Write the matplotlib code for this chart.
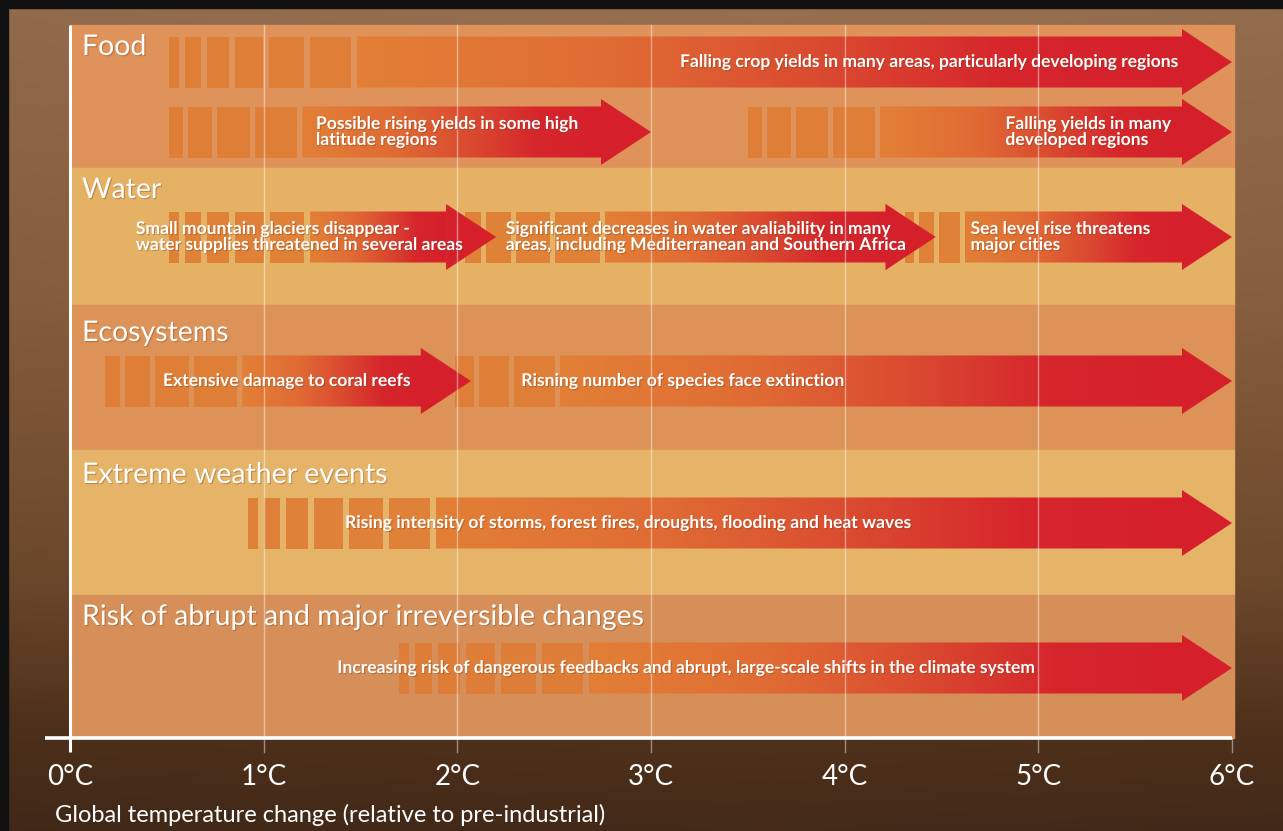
import matplotlib.pyplot as plt
import numpy as np
from matplotlib.patches import Rectangle, Polygon
from matplotlib.colors import LinearSegmentedColormap
import matplotlib.patheffects as pe

plt.rcParams['font.family'] = ['Lato', 'DejaVu Sans']

# temperature axis (degrees C above pre-industrial)
temps = [0, 1, 2, 3, 4, 5, 6]
temp_labels = ["0°C", "1°C", "2°C", "3°C", "4°C", "5°C", "6°C"]
x_label = "Global temperature change (relative to pre-industrial)"

# impact sectors
categories = ["Food", "Water", "Ecosystems", "Extreme weather events",
              "Risk of abrupt and major irreversible changes"]

# impacts: text, lane, where the faded start begins, where it turns solid, arrow tip
impact_text = [
    "Falling crop yields in many areas, particularly developing regions",
    "Possible rising yields in some high\nlatitude regions",
    "Falling yields in many\ndeveloped regions",
    "Small mountain glaciers disappear -\nwater supplies threatened in several areas",
    "Significant decreases in water avaliability in many\nareas, including Mediterranean and Southern Africa",
    "Sea level rise threatens\nmajor cities",
    "Extensive damage to coral reefs",
    "Risning number of species face extinction",
    "Rising intensity of storms, forest fires, droughts, flooding and heat waves",
    "Increasing risk of dangerous feedbacks and abrupt, large-scale shifts in the climate system",
]
impact_lane = [0, 1, 1, 2, 2, 2, 3, 3, 4, 5]
impact_start = [0.51, 0.51, 3.50, 0.51, 2.04, 4.31, 0.18, 1.99, 0.92, 1.70]
impact_solid = [1.48, 1.20, 4.18, 1.24, 2.76, 4.62, 0.89, 2.53, 1.89, 2.68]
impact_end = [6.0, 3.0, 6.0, 2.2, 4.47, 6.0, 2.07, 6.0, 6.0, 6.0]

# ---- layout (pixels of the 1283x831 canvas) ----
W, H = 1283, 831
x0_px, px_per_deg = 70, (1232 - 70) / 6
axis_y = 738
band_edges = [25, 168, 305, 450, 595, axis_y]
band_colors = ["#df935a", "#e5b165", "#dd9358", "#e5b468", "#d68f59"]
title_y = [47, 190, 333, 475, 617]
lane_y = [62, 132, 237, 381, 523, 668]
label_x = [3.15, 1.27, 4.83, 0.34, 2.25, 4.65, 0.48, 2.33, 1.42, 1.38]

bar_half = 25.5
head_half = 33
head_len = 50 / px_per_deg
seg_color = "#e07c34"

fig = plt.figure(figsize=(W / 100, H / 100), dpi=100)

# brown backdrop
bg = fig.add_axes([0, 0, 1, 1])
stops_y = np.array([0.0, 0.35, 0.7, 0.88, 1.0])
stops_c = np.array([[152, 112, 80], [140, 98, 64], [112, 74, 44],
                    [80, 50, 28], [68, 42, 24]]) / 255
yy = np.linspace(0, 1, H)
grad = np.stack([np.interp(yy, stops_y, stops_c[:, k]) for k in range(3)], axis=1)
xx = np.linspace(0, 1, W)
shade = 1 - 0.08 * np.abs(xx - 0.6)
img = grad[:, None, :] * shade[None, :, None]
bg.imshow(np.clip(img, 0, 1), extent=[0, W, H, 0], aspect="auto")
bg.add_patch(Rectangle((0, 0), W, 8, color="#111111"))
bg.add_patch(Rectangle((0, 0), 8, H, color="#111111"))
bg.set_xlim(0, W)
bg.set_ylim(H, 0)
bg.axis("off")

# main panel: x in degrees, y in canvas pixels
ax = fig.add_axes([x0_px / W, (H - axis_y) / H, (1232 - x0_px) / W, (axis_y - 25) / H])
ax.patch.set_alpha(0)
xmax = 6.0

for i, col in enumerate(band_colors):
    ax.add_patch(Rectangle((0, band_edges[i]), xmax + 0.01, band_edges[i + 1] - band_edges[i],
                           color=col, zorder=0, clip_on=False))

shadow = [pe.withSimplePatchShadow(offset=(0.8, -0.8), shadow_rgbFace="#7a3a10", alpha=0.35)]

for i, name in enumerate(categories):
    ax.text(0.062, title_y[i], name, color="white", fontsize=20.5, va="center", ha="left",
            zorder=6, path_effects=shadow)

cmap = LinearSegmentedColormap.from_list(
    "heat", ["#e27e36", "#e06a34", "#da4a30", "#d6262c", "#d5202b"])

for k, text in enumerate(impact_text):
    yc = lane_y[impact_lane[k]]
    s, m, e = impact_start[k], impact_solid[k], impact_end[k]

    # faded start: widening blocks
    span_px = (m - s) * px_per_deg
    n = int(np.clip(round(span_px / 31), 3, 6))
    gap = (6 if n >= 5 else 5) / px_per_deg
    weights = 1 + 0.62 * np.arange(n)
    widths = weights / weights.sum() * ((m - s) - n * gap)
    xpos = s
    for w in widths:
        ax.add_patch(Rectangle((xpos, yc - bar_half), w, 2 * bar_half,
                               color=seg_color, alpha=0.9, lw=0, zorder=2))
        xpos += w + gap

    # solid arrow with orange-to-red gradient
    hb = e - head_len
    verts = [(m, yc - bar_half), (hb, yc - bar_half), (hb, yc - head_half), (e, yc),
             (hb, yc + head_half), (hb, yc + bar_half), (m, yc + bar_half)]
    arrow = Polygon(verts, closed=True, facecolor="none", edgecolor="none", zorder=3)
    ax.add_patch(arrow)
    ramp = np.linspace(0, 1, 256) ** 1.2
    im = ax.imshow(ramp[None, :], cmap=cmap, vmin=0, vmax=1, aspect="auto",
                   extent=[m, hb, yc + head_half, yc - head_half], zorder=3,
                   interpolation="bilinear")
    im.set_clip_path(arrow)
    ax.add_patch(Polygon(verts[2:5], closed=True, facecolor="#d5202b", edgecolor="none", zorder=3))

    ax.text(label_x[k], yc, text, color="white", fontsize=12.6, fontweight="bold",
            va="center", ha="left", linespacing=1.0, zorder=6, path_effects=shadow)

# faint grid lines
for t in temps[1:-1]:
    ax.plot([t, t], [25, axis_y + 14], color="white", alpha=0.45, lw=1, zorder=4, clip_on=False)
ax.plot([6, 6], [axis_y, axis_y + 14], color="white", alpha=0.45, lw=1, zorder=4, clip_on=False)

# axis lines
ax.plot([-25 / px_per_deg, xmax], [axis_y, axis_y], color="white", lw=2.6,
        zorder=7, clip_on=False, solid_capstyle="butt")
ax.plot([0, 0], [25, axis_y + 14], color="white", lw=2.2, zorder=7, clip_on=False,
        solid_capstyle="butt")

ax.set_xlim(0, xmax)
ax.set_ylim(axis_y, 25)
ax.set_xticks(temps)
ax.set_xticklabels(temp_labels)
ax.tick_params(axis="x", length=0, pad=19, labelsize=20, labelcolor="white")
ax.set_yticks([])
for sp in ax.spines.values():
    sp.set_visible(False)

fig.text(55 / W, 1 - 815 / H, x_label, color="white", fontsize=17, ha="left", va="center")

fig.savefig("out.png", dpi=100)
